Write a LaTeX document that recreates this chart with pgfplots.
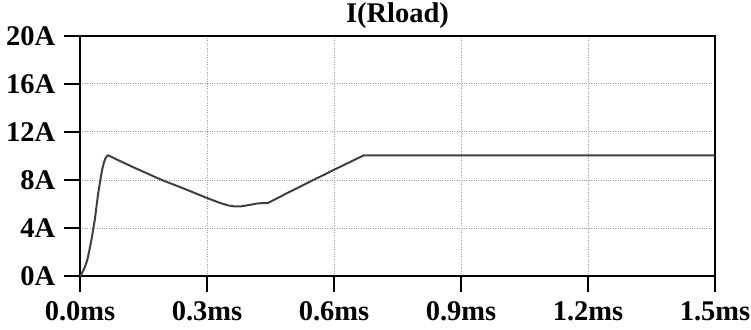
\documentclass[border=0pt]{standalone}
\usepackage{fontspec}
\setmainfont{Liberation Serif}
\usepackage{pgfplots}
\pgfplotsset{compat=1.18}
\begin{document}
\fontsize{28.5pt}{31pt}\selectfont\bfseries
\begin{tikzpicture}
\useasboundingbox (-80pt,-53pt) rectangle (671pt,276pt);
\begin{axis}[
  at={(0pt,0pt)}, anchor=south west,
  scale only axis, width=635pt, height=240pt,
  xmin=0, xmax=1.5, ymin=0, ymax=20,
  xtick={0,0.3,0.6,0.9,1.2,1.5},
  xticklabels={0.0ms,0.3ms,0.6ms,0.9ms,1.2ms,1.5ms},
  ytick={0,4,8,12,16,20},
  yticklabels={0A,4A,8A,12A,16A,20A},
  xtick pos=bottom, ytick pos=left,
  tick align=outside, major tick length=16pt,
  tick style={black, line width=1.5pt},
  axis line style={black, line width=1.5pt},
  grid=major,
  major grid style={gray!80, dotted, line width=1pt},
  xticklabel style={font=\fontsize{28.5pt}{31pt}\selectfont\bfseries, yshift=0pt},
  yticklabel style={font=\fontsize{28.5pt}{31pt}\selectfont\bfseries, xshift=1pt},
  title={I(Rload)},
  title style={font=\fontsize{28.5pt}{31pt}\selectfont\bfseries, anchor=south, yshift=-8pt},
  clip=false,
]
\addplot[color=black!75, line width=2pt] coordinates {
(0,0) (0.003,0.1) (0.007,0.4) (0.012,0.8) (0.017,1.3) (0.022,2.1) (0.028,3.2) (0.035,4.7) (0.043,6.9) (0.048,8.0) (0.052,8.8) (0.056,9.4) (0.060,9.8) (0.064,10.0) (0.067,10.05)
(0.08,9.82) (0.13,9.0) (0.19,8.05) (0.25,7.22) (0.30,6.5) (0.33,6.1) (0.35,5.88) (0.365,5.8) (0.38,5.8) (0.40,5.92) (0.42,6.05) (0.445,6.1)
(0.50,7.1) (0.60,8.85) (0.67,10.05) (0.8,10.05) (1.0,10.05) (1.5,10.05)
};
\end{axis}
\end{tikzpicture}
\end{document}
